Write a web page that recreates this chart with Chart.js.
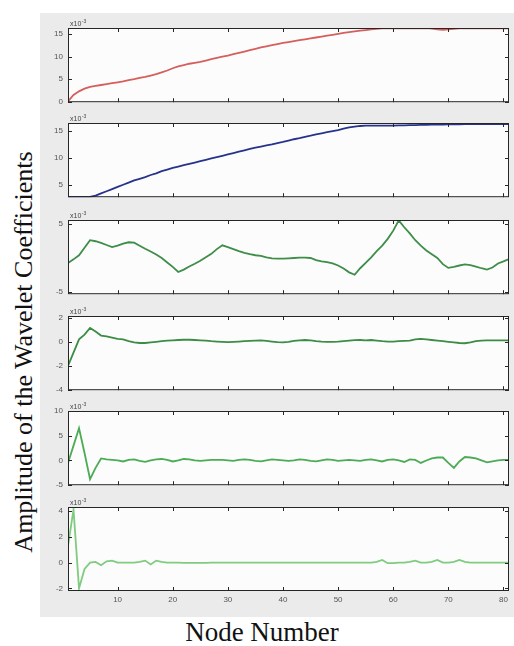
<!DOCTYPE html>
<html>
<head>
<meta charset="utf-8">
<script src="https://cdn.jsdelivr.net/npm/chart.js@4.4.1/dist/chart.umd.min.js"></script>
<style>
    html, body { margin: 0; padding: 0; background: #fff; }
    #wrap { position: relative; width: 514px; height: 646px; overflow: hidden; }
    #figure { position: absolute; left: 40px; top: 13px; width: 474px; height: 604px; background: #ebebeb; }
    canvas { position: absolute; left: 0; }
    .title { position: absolute; font-family: 'Liberation Serif', 'Times New Roman', serif; color: #111; white-space: nowrap; line-height: 1; }
    #ytitle { left: 24px; top: 352px; font-size: 26px; transform: translate(-50%, -50%) rotate(-90deg); }
    #xtitle { left: 262px; top: 619px; font-size: 27px; transform: translateX(-50%); }
</style>
</head>
<body>
<div id="wrap">
    <div id="figure"></div>
    <div class="title" id="ytitle">Amplitude of the Wavelet Coefficients</div>
    <div class="title" id="xtitle">Node Number</div>
</div>
<script>
// node numbers 1..81
const nodes = [];
for (let n = 1; n <= 81; n++) nodes.push(n);

const xTicks = [10, 20, 30, 40, 50, 60, 70, 80];

// values in units of 1e-3
const panel1Values = [
    0.1, 1.5, 2.3, 2.9, 3.3, 3.5, 3.7, 3.9, 4.1, 4.3,
    4.5, 4.8, 5.0, 5.3, 5.5, 5.8, 6.1, 6.5, 6.9, 7.4,
    7.8, 8.1, 8.4, 8.6, 8.8, 9.1, 9.4, 9.7, 9.95, 10.2,
    10.5, 10.8, 11.1, 11.4, 11.7, 12.0, 12.25, 12.5, 12.75, 13.0,
    13.2, 13.4, 13.6, 13.8, 14.0, 14.2, 14.4, 14.6, 14.8, 15.0,
    15.2, 15.4, 15.55, 15.7, 15.85, 16.0, 16.1, 16.2, 16.25, 16.25,
    16.25, 16.25, 16.25, 16.25, 16.25, 16.25, 16.15, 16.0, 15.9, 16.0,
    16.1, 16.2, 16.25, 16.25, 16.25, 16.25, 16.25, 16.25, 16.25, 16.25, 16.25
];
const panel2Values = [
    2.75, 2.75, 2.75, 2.75, 2.75, 3.0, 3.4, 3.8, 4.2, 4.6,
    5.0, 5.4, 5.8, 6.1, 6.4, 6.8, 7.1, 7.5, 7.8, 8.1,
    8.35, 8.6, 8.85, 9.1, 9.35, 9.6, 9.85, 10.1, 10.35, 10.6,
    10.85, 11.1, 11.35, 11.6, 11.85, 12.05, 12.25, 12.45, 12.7, 12.9,
    13.15, 13.4, 13.6, 13.85, 14.05, 14.3, 14.5, 14.7, 14.9, 15.1,
    15.35, 15.6, 15.75, 15.85, 15.9, 15.9, 15.9, 15.9, 15.9, 15.9,
    15.95, 15.95, 16.0, 16.0, 16.05, 16.05, 16.1, 16.1, 16.1, 16.15,
    16.15, 16.15, 16.2, 16.2, 16.2, 16.2, 16.2, 16.2, 16.2, 16.2, 16.2
];
const panel3Values = [
    -0.74, -0.2, 0.4, 1.5, 2.6, 2.45, 2.2, 1.9, 1.6, 1.8,
    2.1, 2.3, 2.25, 1.8, 1.35, 0.95, 0.5, 0.0, -0.65, -1.3,
    -2.05, -1.7, -1.25, -0.85, -0.4, 0.1, 0.6, 1.3, 1.85, 1.6,
    1.3, 1.0, 0.75, 0.55, 0.4, 0.3, 0.1, -0.05, -0.1, -0.1,
    -0.05, 0.0, 0.05, 0.05, 0.0, -0.3, -0.5, -0.6, -0.8, -1.1,
    -1.55, -2.1, -2.45, -1.5, -0.7, 0.1, 1.0, 1.8, 2.8, 4.0,
    5.5, 4.5, 3.6, 2.6, 1.8, 1.1, 0.55, 0.0, -0.9, -1.45,
    -1.3, -1.1, -0.95, -1.05, -1.25, -1.5, -1.7, -1.4, -0.8, -0.5, -0.17
];
const panel4Values = [
    -2.0, -0.9, 0.2, 0.6, 1.15, 0.85, 0.52, 0.45, 0.35, 0.25,
    0.2, 0.05, -0.05, -0.1, -0.1, -0.05, 0.0, 0.05, 0.1, 0.12,
    0.15, 0.17, 0.17, 0.15, 0.12, 0.1, 0.05, 0.02, 0.0, -0.02,
    0.0, 0.02, 0.05, 0.08, 0.1, 0.12, 0.08, 0.02, -0.03, -0.05,
    0.0, 0.08, 0.12, 0.15, 0.12, 0.06, 0.02, 0.0, 0.0, 0.02,
    0.06, 0.1, 0.14, 0.15, 0.12, 0.15, 0.1, 0.05, 0.02, 0.02,
    0.05, 0.08, 0.1, 0.2, 0.25, 0.2, 0.15, 0.1, 0.05, 0.0,
    -0.05, -0.1, -0.12, -0.05, 0.05, 0.1, 0.12, 0.12, 0.12, 0.12, 0.12
];
const panel5Values = [
    -0.5, 3.0, 6.5, 1.5, -3.8, -1.5, 0.4, 0.2, 0.1, 0.0,
    -0.2, 0.1, 0.2, -0.1, -0.3, 0.0, 0.2, 0.3, 0.1, -0.2,
    0.0, 0.3, 0.2, 0.0, -0.1, 0.0, 0.1, 0.1, 0.1, 0.0,
    -0.1, 0.1, 0.2, 0.1, -0.1, -0.2, 0.0, 0.2, 0.1, 0.0,
    -0.1, 0.0, 0.2, 0.1, -0.1, -0.2, 0.0, 0.2, 0.1, -0.1,
    0.0, 0.1, 0.0, -0.1, 0.1, 0.2, 0.0, -0.2, 0.1, 0.2,
    0.0, -0.3, 0.2, 0.1, -0.5, 0.0, 0.4, 0.6, 0.6, -0.5,
    -1.5, -0.2, 0.7, 0.6, 0.4, 0.0, -0.4, -0.2, 0.0, 0.1, 0.1
];
const panel6Values = [
    1.3, 4.1, -2.0, -0.5, 0.0, 0.05, -0.2, 0.1, 0.15, 0.0,
    0.0, 0.0, 0.0, 0.05, 0.15, -0.15, 0.15, 0.05, 0.0, 0.0,
    0.0, -0.03, -0.03, -0.03, -0.03, -0.03, 0.0, 0.0, 0.0, 0.0,
    0, 0, 0, 0, 0, 0, 0, 0, 0, 0,
    0, 0, 0, 0, 0, 0, 0, 0, 0, 0,
    0, 0, 0, 0, 0, 0, 0.05, 0.2, -0.05, -0.05,
    0.0, 0.0, 0.05, 0.15, 0.0, 0.0, 0.05, 0.2, 0.0, 0.0,
    0.05, 0.2, 0.05, 0.0, 0, 0, 0, 0, 0, 0, 0
];

const panelYTicks = [
    [0, 5, 10, 15],
    [5, 10, 15],
    [-5, 5],
    [-4, -2, 0, 2],
    [-5, 0, 5, 10],
    [-2, 0, 2, 4]
];
const panelRanges = [[-0.1, 16.3], [2.7, 16.4], [-5.3, 5.56], [-4.03, 2.15], [-5, 10], [-2.2, 4.3]];
const panelColors = ['#d45f5c', '#26338c', '#3e8d48', '#3b8c45', '#4cab55', '#7fcb7f'];
const panelTops = [28, 123, 220, 316, 411, 507];
const panelData = [panel1Values, panel2Values, panel3Values, panel4Values, panel5Values, panel6Values];

const PANEL_H = 84;
const TOP_PAD = 14;

const matlabBox = {
    id: 'matlabBox',
    beforeDraw(chart) {
        const a = chart.chartArea;
        const ctx = chart.ctx;
        ctx.save();
        ctx.fillStyle = '#fcfcfc';
        ctx.fillRect(a.left, a.top, a.right - a.left, a.bottom - a.top);
        ctx.restore();
    },
    afterDraw(chart) {
        const a = chart.chartArea;
        const ctx = chart.ctx;
        const xs = chart.scales.x, ys = chart.scales.y;
        ctx.save();
        ctx.strokeStyle = '#262626';
        ctx.lineWidth = 1;
        ctx.strokeRect(a.left + 0.5, a.top + 0.5, a.right - a.left - 1, a.bottom - a.top - 1);
        ctx.beginPath();
        xs.ticks.forEach(t => {
            const px = Math.round(xs.getPixelForValue(t.value)) + 0.5;
            ctx.moveTo(px, a.top); ctx.lineTo(px, a.top + 4);
            ctx.moveTo(px, a.bottom); ctx.lineTo(px, a.bottom - 4);
        });
        ys.ticks.forEach(t => {
            const py = Math.round(ys.getPixelForValue(t.value)) + 0.5;
            ctx.moveTo(a.left, py); ctx.lineTo(a.left + 4, py);
            ctx.moveTo(a.right, py); ctx.lineTo(a.right - 4, py);
        });
        ctx.stroke();
        // exponent label
        ctx.fillStyle = '#444';
        ctx.textBaseline = 'alphabetic';
        ctx.font = '7px "Liberation Sans", Arial, sans-serif';
        ctx.fillText('x10', a.left + 2, a.top - 2);
        const w = ctx.measureText('x10').width;
        ctx.font = '5px "Liberation Sans", Arial, sans-serif';
        ctx.fillText('-3', a.left + 2 + w + 0.5, a.top - 5);
        ctx.restore();
    }
};

const wrap = document.getElementById('wrap');

panelData.forEach((values, i) => {
    const last = i === panelData.length - 1;
    const canvas = document.createElement('canvas');
    const h = TOP_PAD + PANEL_H + (last ? 18 : 0);
    canvas.width = 514;
    canvas.height = h;
    canvas.style.top = (panelTops[i] - TOP_PAD) + 'px';
    canvas.style.width = '514px';
    canvas.style.height = h + 'px';
    wrap.appendChild(canvas);

    const points = nodes.map((n, k) => ({ x: n, y: values[k] }));

    new Chart(canvas.getContext('2d'), {
        type: 'line',
        data: {
            datasets: [{
                data: points,
                borderColor: panelColors[i],
                borderWidth: 1.8,
                pointRadius: 0,
                tension: 0,
                fill: false
            }]
        },
        options: {
            responsive: false,
            animation: false,
            events: [],
            layout: { padding: { left: 40, right: 5, top: TOP_PAD, bottom: 0 } },
            plugins: { legend: { display: false }, tooltip: { enabled: false } },
            scales: {
                x: {
                    type: 'linear',
                    min: 1,
                    max: 81,
                    afterBuildTicks: s => { s.ticks = xTicks.map(v => ({ value: v })); },
                    afterFit: s => { s.height = last ? 18 : 0; },
                    grid: { display: false, drawTicks: false },
                    border: { display: false },
                    ticks: {
                        display: last,
                        padding: 4,
                        color: '#555',
                        font: { family: '"Liberation Sans", Arial, sans-serif', size: 8 },
                        maxRotation: 0
                    }
                },
                y: {
                    type: 'linear',
                    min: panelRanges[i][0],
                    max: panelRanges[i][1],
                    afterBuildTicks: s => { s.ticks = panelYTicks[i].map(v => ({ value: v })); },
                    afterFit: s => { s.width = 28; },
                    grid: { display: false, drawTicks: false },
                    border: { display: false },
                    ticks: {
                        padding: 5,
                        color: '#555',
                        font: { family: '"Liberation Sans", Arial, sans-serif', size: 8 }
                    }
                }
            }
        },
        plugins: [matlabBox]
    });
});
</script>
</body>
</html>
